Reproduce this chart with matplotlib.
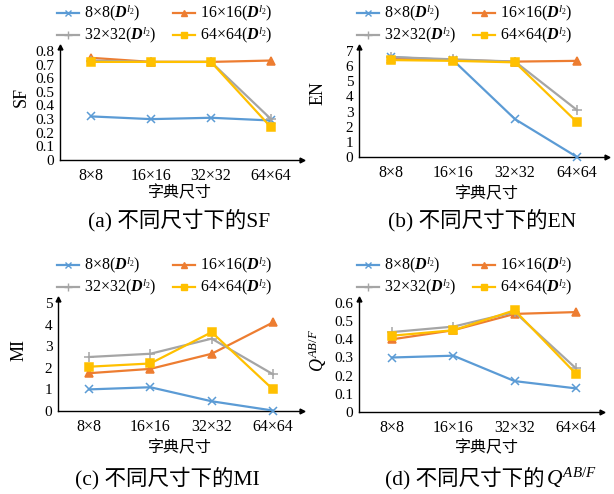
import matplotlib
matplotlib.use("Agg")
import matplotlib.pyplot as plt
from matplotlib.lines import Line2D

plt.rcParams['font.family'] = ['Liberation Serif', 'Noto Sans CJK SC']
plt.rcParams['mathtext.fontset'] = 'custom'
plt.rcParams['mathtext.rm'] = 'Liberation Serif'
plt.rcParams['mathtext.it'] = 'Liberation Serif:italic'
plt.rcParams['mathtext.bf'] = 'Liberation Serif:bold:italic'

categories = ['8×8', '16×16', '32×32', '64×64']
series_names = ['8×8', '16×16', '32×32', '64×64']

sf_8 = [0.32, 0.30, 0.31, 0.29]
sf_16 = [0.75, 0.72, 0.72, 0.73]
sf_32 = [0.73, 0.72, 0.72, 0.30]
sf_64 = [0.72, 0.72, 0.72, 0.24]

en_8 = [6.6, 6.4, 2.5, 0.0]
en_16 = [6.5, 6.4, 6.3, 6.35]
en_32 = [6.6, 6.45, 6.3, 3.1]
en_64 = [6.4, 6.35, 6.25, 2.3]

mi_8 = [1.0, 1.1, 0.45, 0.02]
mi_16 = [1.75, 1.95, 2.65, 4.1]
mi_32 = [2.5, 2.65, 3.35, 1.7]
mi_64 = [2.05, 2.2, 3.65, 1.0]

q_8 = [0.30, 0.31, 0.17, 0.13]
q_16 = [0.40, 0.45, 0.54, 0.55]
q_32 = [0.44, 0.47, 0.55, 0.24]
q_64 = [0.42, 0.45, 0.56, 0.21]

colors = ['#5B9BD5', '#ED7D31', '#A5A5A5', '#FFC000']
markers = ['x', '^', '+', 's']
msizes = [6, 6, 7, 6]

W, H = 614, 494
fig = plt.figure(figsize=(W / 100, H / 100), dpi=100)


def fx(px):
    return px / W


def fy(py):
    return 1 - py / H


def panel(data, yticks, x0, x1, y0, ytop, cfirst, clast, ylabel, ylx, yly,
          xlx, xly, leg_x, leg_y):
    arrow_top = ytop - 4
    ax = fig.add_axes([fx(x0), fy(y0), fx(x1 - x0), (y0 - arrow_top) / H])
    s = (clast - cfirst) / 3
    ax.set_xlim((x0 - cfirst) / s, (x1 - cfirst) / s)
    top = yticks[-1]
    ax.set_ylim(0, top * (y0 - arrow_top) / (y0 - ytop))
    for i, vals in enumerate(data):
        ax.plot(range(4), vals, color=colors[i], marker=markers[i],
                markersize=msizes[i], linewidth=1.6, markeredgewidth=1.1,
                clip_on=False, zorder=3 + (i == 3))
    ax.set_xticks(range(4))
    ax.set_xticklabels(categories, fontsize=11.5)
    ax.set_yticks(yticks)
    ax.set_yticklabels([('%g' % v) for v in yticks], fontsize=11)
    ax.tick_params(length=0, pad=4)
    ax.tick_params(axis='x', pad=6)
    for sp in ['top', 'right']:
        ax.spines[sp].set_visible(False)
    for sp in ['left', 'bottom']:
        ax.spines[sp].set_linewidth(1.0)
    ax.plot(1, 0, '>k', transform=ax.transAxes, clip_on=False, markersize=3.5)
    ax.plot(0, 1, '^k', transform=ax.transAxes, clip_on=False, markersize=3.5)
    fig.text(fx(ylx), fy(yly), ylabel, rotation=90, ha='center', va='center',
             fontsize=13)
    fig.text(fx(xlx), fy(xly), '字典尺寸', ha='center', va='center', fontsize=11.5)

    handles = [Line2D([], [], color=colors[i], marker=markers[i],
                      markersize=msizes[i] - 1, linewidth=1.6, markeredgewidth=1.0)
               for i in range(4)]
    labels = [n + r'($\mathbf{D}^{l_2}$)' for n in series_names]
    order = [0, 2, 1, 3]
    fig.legend([handles[i] for i in order], [labels[i] for i in order],
               ncol=2, frameon=False, loc='upper left',
               bbox_to_anchor=(fx(leg_x), fy(leg_y)), fontsize=11.5,
               handlelength=1.4, handletextpad=0.3, columnspacing=1.0,
               labelspacing=0.05, borderpad=0, borderaxespad=0)
    return ax


panel([sf_8, sf_16, sf_32, sf_64], [0, 0.1, 0.2, 0.3, 0.4, 0.5, 0.6, 0.7, 0.8],
      60, 302, 160, 51, 91, 271, 'SF', 21, 97, 180, 193, 57, 3)
panel([en_8, en_16, en_32, en_64], [0, 1, 2, 3, 4, 5, 6, 7],
      359, 607, 157, 51, 391, 577, 'EN', 318, 93, 487, 194, 357, 3)
panel([mi_8, mi_16, mi_32, mi_64], [0, 1, 2, 3, 4, 5],
      58, 302, 411, 303, 89, 273, 'MI', 19, 350, 180, 448, 57, 255)
panel([q_8, q_16, q_32, q_64], [0, 0.1, 0.2, 0.3, 0.4, 0.5, 0.6],
      359, 602, 412, 303, 392, 576, r'$Q^{AB/F}$', 318, 350, 487, 448, 357, 255)

fig.text(fx(179), fy(220), '(a) 不同尺寸下的SF', ha='center', va='center', fontsize=15.5)
fig.text(fx(482), fy(220), '(b) 不同尺寸下的EN', ha='center', va='center', fontsize=15.5)
fig.text(fx(167), fy(478), '(c) 不同尺寸下的MI', ha='center', va='center', fontsize=15.5)
fig.text(fx(545), fy(478), '(d) 不同尺寸下的', ha='right', va='center', fontsize=15.5)
fig.text(fx(546), fy(478), r'$Q^{AB/F}$', ha='left', va='center', fontsize=15.5)

fig.savefig('out.png', dpi=100)
